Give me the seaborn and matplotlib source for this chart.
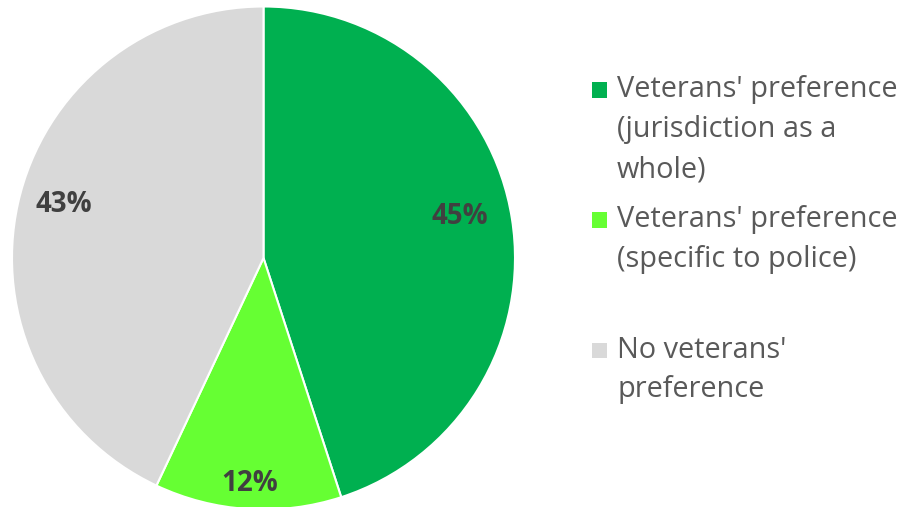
import matplotlib
matplotlib.use("Agg")
import matplotlib.pyplot as plt
from matplotlib.patches import Rectangle
import numpy as np
import seaborn as sns

categories = [
    "Veterans' preference\n(jurisdiction as a\nwhole)",
    "Veterans' preference\n(specific to police)",
    "No veterans'\npreference",
]
shares = [45, 12, 43]
colors = ["#00B050", "#66FF33", "#D9D9D9"]

sns.set_theme(style="white")
plt.rcParams["font.family"] = ["Open Sans", "DejaVu Sans"]

W, H = 905, 507
fig = plt.figure(figsize=(W / 100, H / 100), dpi=100)
fig.patch.set_facecolor("white")

# pie axes: centre (263.5, 258) px, radius ~251.5 px
cx, cy, r = 263.5, 258.0, 251.5
ax = fig.add_axes([(cx - r) / W, (H - cy - r) / H, 2 * r / W, 2 * r / H])
wedges, texts, autotexts = ax.pie(
    shares,
    colors=colors,
    startangle=90,
    counterclock=False,
    autopct=lambda p: f"{p:.0f}%",
    pctdistance=0.82,
    radius=1.0,
    wedgeprops=dict(edgecolor="white", linewidth=1.5),
    textprops=dict(color="#404040", fontsize=20, fontweight="bold"),
)
ax.set_xlim(-1, 1)
ax.set_ylim(-1, 1)
ax.set_aspect("equal")
ax.axis("off")

# best-fit label placement
label_radius = [0.80, 0.90, 0.82]
label_angle = [12, -93.6, 165]
for t, rr, a in zip(autotexts, label_radius, label_angle):
    t.set_position((rr * np.cos(np.radians(a)), rr * np.sin(np.radians(a))))

# legend drawn in pixel positions
first_line_y = [90, 220, 350]
line_step = 40
for lab, col, y0 in zip(categories, colors, first_line_y):
    fig.patches.append(
        Rectangle((592 / W, (H - y0 - 7.5) / H), 15 / W, 15 / H,
                  transform=fig.transFigure, facecolor=col, edgecolor="none")
    )
    for i, line in enumerate(lab.split("\n")):
        fig.text(617 / W, (H - (y0 + i * line_step)) / H, line,
                 fontsize=20.8, color="#595959", va="center", ha="left")

fig.savefig("out.png", dpi=100)
